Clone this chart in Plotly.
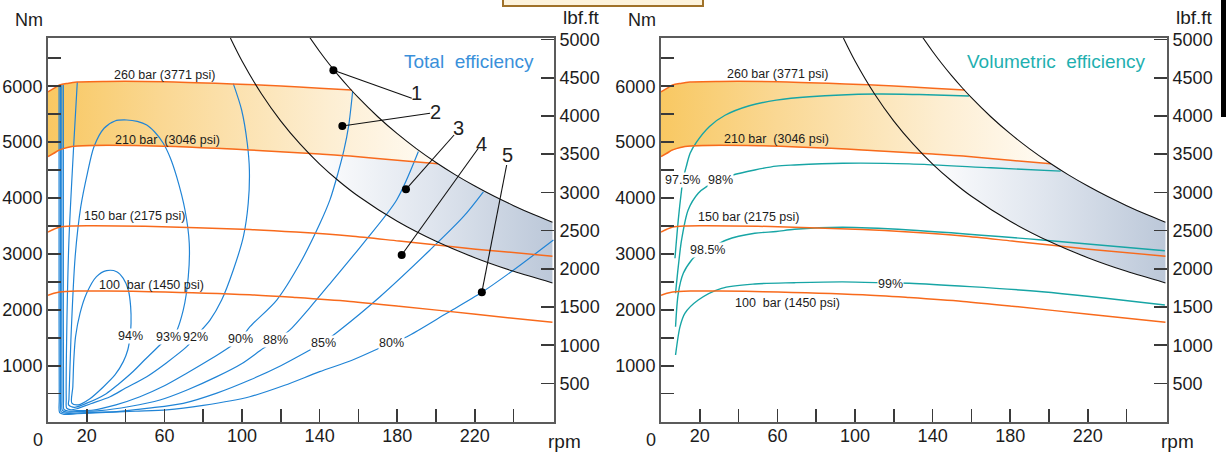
import numpy as np
import plotly.graph_objects as go

# ---------------- data ----------------
# pressure lines (same in both panels): rpm -> torque [Nm]
P260_RPM = [0, 3, 6, 10, 15, 30, 60, 95, 120, 140, 156.5]
P260_NM = [5900, 5960, 6020, 6050, 6075, 6085, 6080, 6040, 6005, 5965, 5932]
P210_RPM = [0, 3, 6, 10, 15, 50, 104, 140, 155.7, 180, 201]
P210_NM = [4740, 4800, 4860, 4905, 4930, 4935, 4860, 4785, 4750, 4676, 4612]
P150_RPM = [0, 3, 6, 12, 20, 50, 104, 127.9, 155.7, 181, 220.5, 260]
P150_NM = [3390, 3440, 3480, 3500, 3505, 3495, 3435, 3390, 3320, 3230, 3085, 2960]
P100_RPM = [0, 3, 6, 15, 30, 52.6, 104, 127.9, 155.7, 181, 220.5, 260]
P100_NM = [2260, 2295, 2320, 2335, 2335, 2325, 2270, 2220, 2150, 2065, 1920, 1775]
PRESS_TEXT = ["260 bar (3771 psi)", "210 bar\u00a0 (3046 psi)",
              "150 bar (2175 psi)", "100\u00a0 bar (1450 psi)"]
PRESS_L_RPM = [59.8, 61.6, 44.8, 53.5]
PRESS_L_NM = [6200, 5038, 3678, 2444]
PRESS_R_RPM = [59.8, 59.3, 44.9, 65.0]
PRESS_R_NM = [6218, 5055, 3660, 2122]

# constant power curves
K67_RPM = [94, 100, 110, 120, 130, 140, 150, 160, 180, 200, 220, 240, 260]
K67_NM = [6862, 6450, 5864, 5375, 4962, 4607, 4300, 4031, 3583, 3225, 2932, 2688, 2481]
K96_RPM = [135, 140, 145, 150, 155, 160, 170, 180, 190, 200, 210, 220, 230, 240, 250, 260]
K96_NM = [6867, 6621, 6393, 6180, 5981, 5794, 5453, 5150, 4879, 4635, 4414, 4214, 4030, 3863, 3708, 3565]
KW_TEXT = ["67kw", "96kw"]
KW_RPM = [94.5, 134.5]
KW_NM = [7010, 7010]

# total efficiency contours (left panel)
E94_RPM = [12.3, 12.8, 13.3, 14.2, 16.5, 19.9, 25.0, 30.2, 35.4, 38.8, 41.4, 42.6, 42.8, 42.3, 41.1, 38.8, 34.5, 28.5, 21.6, 15.6, 12.3]
E94_NM = [330, 625, 1102, 1520, 1937, 2295, 2594, 2700, 2682, 2563, 2354, 2056, 1758, 1520, 1281, 1073, 834, 620, 410, 300, 330]
E93_RPM = [10.6, 10.8, 11.8, 14.0, 16.9, 20.3, 23.7, 28.9, 34.5, 40.6, 46, 50.9, 55, 59.4, 63, 66.3, 70.6, 72.8, 72.3, 69.7, 65.5, 61.9, 57.7, 50, 44, 36, 30, 20, 13.5, 10.6]
E93_NM = [300, 400, 1460, 2950, 3844, 4442, 4918, 5247, 5378, 5395, 5370, 5306, 5180, 4979, 4720, 4381, 3785, 3190, 2592, 1996, 1580, 1513, 1370, 1110, 900, 660, 500, 330, 255, 300]
E92_RPM = [15.1, 13.4, 10.8, 9.6, 9.4, 9.6, 11.8, 14.8, 22, 32, 40, 50.9, 61, 71.5, 75.8, 83.5, 89.5, 95.5, 100.7, 103.2, 103.8, 102.7, 99.8, 95.5]
E92_NM = [6075, 5037, 3249, 1460, 400, 240, 212, 230, 320, 445, 600, 804, 1050, 1340, 1513, 1817, 2175, 2712, 3308, 3905, 4501, 4979, 5574, 6045]
E90_RPM = [7.9, 7.9, 8.0, 8.2, 10.4, 15, 23.4, 35, 47.4, 60, 71.5, 83, 93.8, 99.2, 104.1, 117.9, 129.9, 140.2, 145.4, 149.5, 152.5, 155, 157]
E90_NM = [6025, 3000, 400, 220, 190, 197, 208, 300, 445, 640, 864, 1100, 1340, 1478, 1698, 2175, 2832, 3547, 3975, 4450, 4850, 5300, 5900]
E88_RPM = [7.1, 7.1, 7.2, 7.4, 9.6, 15, 26.8, 42, 57.7, 72, 87, 100, 111, 117.5, 124.7, 135, 145.4, 162.5, 179.7, 190.9]
E88_NM = [6020, 3000, 400, 200, 170, 178, 195, 270, 386, 570, 804, 1040, 1311, 1451, 1640, 2040, 2470, 3190, 3964, 4830]
E85_RPM = [6.4, 6.4, 6.5, 6.7, 8.9, 20, 35.4, 52, 69.7, 87, 104, 120, 135, 141.9, 150.5, 171.1, 196.9, 214.1, 224.4]
E85_NM = [6015, 3000, 400, 180, 150, 162, 177, 240, 327, 510, 744, 1000, 1281, 1415, 1639, 2234, 3070, 3665, 4110]
E80_RPM = [5.7, 5.7, 5.8, 6.0, 8.2, 15, 26.8, 45, 61.2, 80, 104, 122, 140, 157, 176.8, 185, 205.5, 223.6, 240, 260.5]
E80_NM = [6010, 3000, 400, 160, 130, 140, 159, 185, 208, 290, 445, 650, 893, 1102, 1406, 1519, 1937, 2313, 2712, 3249]
TOTAL_TEXT = ["94%", "93%", "92%", "90%", "88%", "85%", "80%"]
TOTAL_L_RPM = [42.3, 61.9, 75.8, 99.2, 117.5, 141.9, 176.8]
TOTAL_L_NM = [1540, 1513, 1513, 1478, 1451, 1415, 1406]

# volumetric efficiency contours (right panel)
V975_RPM = [7.2, 8.9, 10.6, 11.3, 13.0, 15.0, 18.3, 25, 33, 45.5, 59.4, 76.5, 110.8, 133, 158.7]
V975_NM = [2921, 3606, 4143, 4322, 4560, 4800, 5000, 5280, 5480, 5650, 5750, 5812, 5860, 5850, 5825]
V98_RPM = [7.5, 8.9, 10.6, 14.0, 19.2, 23.5, 30.6, 37.1, 48.3, 59.4, 68.8, 93.6, 128, 170, 206]
V98_NM = [2295, 2771, 3249, 3785, 4084, 4202, 4322, 4411, 4501, 4570, 4590, 4621, 4610, 4540, 4480]
V985_RPM = [7.5, 8.9, 11.5, 15.8, 17.5, 23.9, 33.7, 48.3, 59.4, 68.8, 93.6, 128, 196.4, 259.7]
V985_NM = [1698, 2295, 2653, 2891, 2950, 3070, 3249, 3369, 3400, 3440, 3476, 3428, 3249, 3057]
V99_RPM = [7.5, 9.8, 12.3, 19.2, 31.2, 48.3, 68.8, 93.6, 118.1, 128, 196.4, 259.7]
V99_NM = [1191, 1698, 1937, 2175, 2384, 2462, 2485, 2500, 2480, 2474, 2324, 2086]
VOL_TEXT = ["97.5%", "98%", "98.5%", "99%"]
VOL_L_RPM = [11.3, 30.6, 23.9, 118.1]
VOL_L_NM = [4322, 4322, 3070, 2453]

# numbered callouts (left panel)
CALL_TEXT = ["1", "2", "3", "4", "5"]
CALL_DOT_RPM = [147.1, 151.7, 184.5, 182.3, 223.6]
CALL_DOT_NM = [6284, 5288, 4156, 2980, 2313]
CALL_END_RPM = [187.5, 196.9, 209.3, 221.8, 236.4]
CALL_END_NM = [5784, 5515, 5127, 4889, 4590]
CALL_LAB_RPM = [189.9, 199.6, 211.5, 223.6, 236.9]
CALL_LAB_NM = [5878, 5533, 5261, 4966, 4769]

# axes
X_TICKS = list(range(20, 241, 20))
X_TICK_TEXT = ["20", "", "60", "", "100", "", "140", "", "180", "", "220", ""]
NM_TICKS = list(range(500, 6501, 500))
NM_TICK_TEXT = [str(v) if v % 1000 == 0 else "" for v in NM_TICKS]
LBF_TICKS = list(range(500, 5001, 500))
LBF_TICK_TEXT = [str(v) for v in LBF_TICKS]

# ---------------- styling ----------------
W, H = 1226, 453
FONT = "Liberation Sans Narrow, Liberation Sans, Arial, sans-serif"
ORANGE = "#f86a1c"
BLUE = "#2084d6"
TEAL = "#17a5a5"
AXC = "#5b5b5b"
TXT = "#1c1c1c"
X_DOM = {"x": [48 / W, 554 / W], "x2": [661 / W, 1167 / W]}
Y_DOM = [1 - 421.6 / H, 1 - 38 / H]
RPM_MAX, NM_MAX, LBF_MAX = 260.8, 6862, 5020

fig = go.Figure()


def line(x, y, color, width, xa, ya, shape="spline"):
    fig.add_trace(go.Scatter(x=x, y=y, mode="lines", xaxis=xa, yaxis=ya,
                             line=dict(color=color, width=width, shape=shape, smoothing=0.8),
                             hoverinfo="skip", showlegend=False))


# fills built from the line data
g = np.arange(0, 260.05, 0.1)
t260 = np.interp(g, P260_RPM, P260_NM)
t210 = np.interp(g, P210_RPM, P210_NM)
k96 = np.interp(g, K96_RPM, K96_NM)
k67 = np.interp(g, K67_RPM, K67_NM)
top_o = np.minimum(t260, k96)
mo = top_o > t210
top_b = np.minimum(k96, t210)
mb = (top_b > k67) & (g > 100)

for xa, ya in [("x", "y"), ("x2", "y3")]:
    gx = g[mo]
    fig.add_trace(go.Scatter(x=np.concatenate([gx, gx[::-1]]),
                             y=np.concatenate([top_o[mo], t210[mo][::-1]]),
                             fill="toself", mode="lines", line=dict(width=0),
                             fillgradient=dict(type="horizontal",
                                               colorscale=[[0, "#f8c862"], [0.3, "#fad894"],
                                                           [0.72, "#fdeed2"], [1, "#fffbf4"]]),
                             xaxis=xa, yaxis=ya, hoverinfo="skip", showlegend=False))
    gb = g[mb]
    fig.add_trace(go.Scatter(x=np.concatenate([gb, gb[::-1]]),
                             y=np.concatenate([k67[mb], top_b[mb][::-1]]),
                             fill="toself", mode="lines", line=dict(width=0),
                             fillgradient=dict(type="horizontal",
                                               colorscale=[[0, "#ffffff"], [0.5, "#dfe5ee"],
                                                           [1, "#bcc8d9"]]),
                             xaxis=xa, yaxis=ya, hoverinfo="skip", showlegend=False))

# left panel contours
for rx, ny in [(E94_RPM, E94_NM), (E93_RPM, E93_NM), (E92_RPM, E92_NM), (E90_RPM, E90_NM),
               (E88_RPM, E88_NM), (E85_RPM, E85_NM), (E80_RPM, E80_NM)]:
    line(rx, ny, BLUE, 1.2, "x", "y")
# right panel contours
for rx, ny in [(V975_RPM, V975_NM), (V98_RPM, V98_NM), (V985_RPM, V985_NM), (V99_RPM, V99_NM)]:
    line(rx, ny, TEAL, 1.4, "x2", "y3")

for xa, ya in [("x", "y"), ("x2", "y3")]:
    for rx, ny in [(P260_RPM, P260_NM), (P210_RPM, P210_NM), (P150_RPM, P150_NM), (P100_RPM, P100_NM)]:
        line(rx, ny, ORANGE, 1.5, xa, ya)
    line(K67_RPM, K67_NM, "#111111", 1.1, xa, ya)
    line(K96_RPM, K96_NM, "#111111", 1.1, xa, ya)

# callouts
for i in range(len(CALL_TEXT)):
    line([CALL_DOT_RPM[i], CALL_END_RPM[i]], [CALL_DOT_NM[i], CALL_END_NM[i]], "#111111", 1.1, "x", "y", shape="linear")
fig.add_trace(go.Scatter(x=CALL_DOT_RPM, y=CALL_DOT_NM, mode="markers", xaxis="x", yaxis="y",
                         marker=dict(color="#000000", size=8), hoverinfo="skip", showlegend=False))

# dummy traces so the lbf.ft axes are drawn
for xa, ya in [("x", "y2"), ("x2", "y4")]:
    fig.add_trace(go.Scatter(x=[1], y=[1], mode="markers", marker=dict(opacity=0), xaxis=xa, yaxis=ya,
                             hoverinfo="skip", showlegend=False))

ann = []


def text(t, x, y, xref, yref, size, color=TXT, xanchor="center", bg=None):
    d = dict(text=t, x=x, y=y, xref=xref, yref=yref, showarrow=False, xanchor=xanchor, yanchor="middle",
             font=dict(family=FONT, size=size, color=color), borderpad=0)
    if bg:
        d["bgcolor"] = bg
    ann.append(d)


for xa, ya, prx, pry in [("x", "y", PRESS_L_RPM, PRESS_L_NM), ("x2", "y3", PRESS_R_RPM, PRESS_R_NM)]:
    for t, x, y in zip(PRESS_TEXT, prx, pry):
        text(t, x, y, xa, ya, 12.5)
    for t, x, y in zip(KW_TEXT, KW_RPM, KW_NM):
        text(t, x, y, xa, ya, 13)
for t, x, y in zip(TOTAL_TEXT, TOTAL_L_RPM, TOTAL_L_NM):
    text(t, x, y, "x", "y", 12.5, bg="white")
for t, x, y in zip(VOL_TEXT, VOL_L_RPM, VOL_L_NM):
    text(t, x, y, "x2", "y3", 12.5, bg="white")
for t, x, y in zip(CALL_TEXT, CALL_LAB_RPM, CALL_LAB_NM):
    text(t, x, y, "x", "y", 20, color="#222222")
text("Total\u00a0 efficiency", 251, 6433, "x", "y", 19, color="#3a90da", xanchor="right")
text("Volumetric\u00a0 efficiency", 250.6, 6433, "x2", "y3", 19, color="#1fb0b0", xanchor="right")

for off in [0, 613]:
    text("Nm", (29 + off) / W, 1 - 20 / H, "paper", "paper", 18)
    text("lbf.ft", (581 + off) / W, 1 - 18 / H, "paper", "paper", 19)
    text("0", (37.5 + off) / W, 1 - 440 / H, "paper", "paper", 18)
    text("rpm", (564 + off) / W, 1 - 441 / H, "paper", "paper", 19)

axis_common = dict(showgrid=False, zeroline=False, showline=True, linecolor=AXC, linewidth=2,
                   ticks="inside", ticklen=13, tickwidth=1.6, tickcolor="#3a3a3a",
                   tickfont=dict(family=FONT, size=18, color=TXT), automargin=False, fixedrange=True)

layout = dict(width=W, height=H, margin=dict(l=0, r=0, t=0, b=0), autosize=False,
              paper_bgcolor="white", plot_bgcolor="white", showlegend=False, annotations=ann,
              shapes=[dict(type="rect", xref="paper", yref="paper", x0=503 / W, x1=703 / W,
                           y0=1 - 6 / H, y1=1.03, fillcolor="#fdf3dc", line=dict(color="#a0722a", width=2)),
                      dict(type="rect", xref="paper", yref="paper", x0=1221 / W, x1=1.01,
                           y0=1 - 117 / H, y1=1.01, fillcolor="#000000", line=dict(width=0))])
for xn, yl, yr in [("xaxis", "y", "y2"), ("xaxis2", "y3", "y4")]:
    xid = "x" if xn == "xaxis" else "x2"
    layout[xn] = dict(axis_common, domain=X_DOM[xid], range=[0, RPM_MAX], anchor=yl, mirror=True,
                      tickvals=X_TICKS, ticktext=X_TICK_TEXT, ticklabelstandoff=-3)
    layout["yaxis" + ("" if yl == "y" else yl[1:])] = dict(axis_common, domain=Y_DOM, range=[0, NM_MAX],
                                                          anchor=xid, tickvals=NM_TICKS, ticktext=NM_TICK_TEXT)
    layout["yaxis" + yr[1:]] = dict(axis_common, domain=Y_DOM, range=[0, LBF_MAX], anchor=xid,
                                    overlaying=yl, side="right", tickvals=LBF_TICKS, ticktext=LBF_TICK_TEXT)

fig.update_layout(**layout)
fig.write_html("out.html", config={"displayModeBar": False, "staticPlot": True},
               post_script="document.body.style.margin='0px';document.body.style.overflow='hidden';")
